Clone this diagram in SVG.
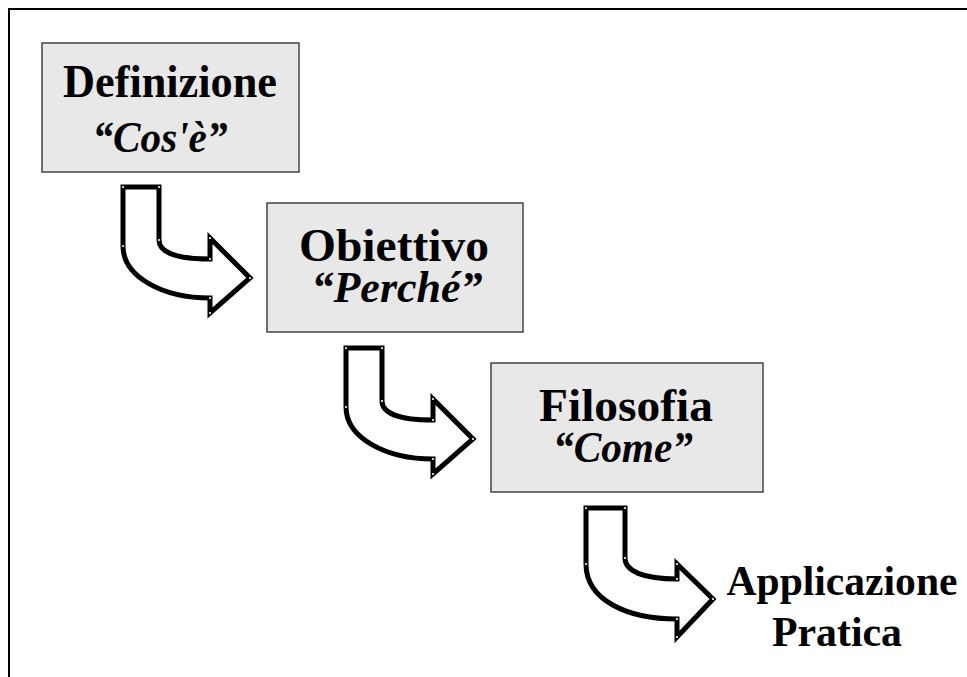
<svg xmlns="http://www.w3.org/2000/svg" width="967" height="677" viewBox="0 0 967 677">
  <style>
    .frame { fill: none; stroke: #000; stroke-width: 2; }
    .box { fill: #e8e8e8; stroke: #444; stroke-width: 1.5; }
    .title { font-family: "Liberation Serif", "Times New Roman", serif; font-weight: bold; font-size: 47px; fill: #000; text-anchor: middle; }
    .sub { font-family: "Liberation Serif", "Times New Roman", serif; font-weight: bold; font-style: italic; font-size: 45px; fill: #000; text-anchor: middle; }
    .label { font-family: "Liberation Serif", "Times New Roman", serif; font-weight: bold; font-size: 43px; fill: #000; text-anchor: middle; }
    .arrow { fill: #fff; stroke: #000; stroke-width: 5; stroke-linejoin: miter; marker-start: url(#dot); marker-mid: url(#dot); }
  </style>
  <defs>
    <marker id="dot" markerUnits="userSpaceOnUse" markerWidth="4" markerHeight="4" refX="2" refY="2" overflow="visible">
      <circle cx="2" cy="2" r="1.1" fill="#fff"/>
    </marker>
    <!-- bent block arrow: down, then curving right into an arrowhead -->
    <path id="bend" d="M123,187 L159,187 L159,240 C159,252 176,259 210,259 L210,238 L250,278 L210,313 L210,298 C163,298 123,277 123,246 Z"/>
  </defs>

  <rect width="967" height="677" fill="#fff"/>
  <path class="frame" d="M9,677 L9,9 L967,9"/>

  <g id="connectors">
    <use href="#bend" class="arrow"/>
    <use href="#bend" class="arrow" transform="translate(223,161)"/>
    <path class="arrow" d="M586,508 L625,508 L625,558 C625,571 643,579 677,579 L677,564 L713,599 L677,637 L677,619 C627,619 586,600 586,564 Z"/>
  </g>

  <g id="node-definizione">
    <rect class="box" x="42" y="43" width="257" height="129"/>
    <text class="title" x="170" y="97" textLength="214" lengthAdjust="spacingAndGlyphs">Definizione</text>
    <text class="sub" x="160" y="152" textLength="135" lengthAdjust="spacingAndGlyphs">“Cos'è”</text>
  </g>

  <g id="node-obiettivo">
    <rect class="box" x="267" y="203" width="256" height="129"/>
    <text class="title" x="394" y="261" textLength="190" lengthAdjust="spacingAndGlyphs">Obiettivo</text>
    <text class="sub" x="397" y="302" textLength="171" lengthAdjust="spacingAndGlyphs">“Perché”</text>
  </g>

  <g id="node-filosofia">
    <rect class="box" x="491" y="363" width="272" height="129"/>
    <text class="title" x="626" y="421" textLength="174" lengthAdjust="spacingAndGlyphs">Filosofia</text>
    <text class="sub" x="623" y="462" textLength="140" lengthAdjust="spacingAndGlyphs">“Come”</text>
  </g>

  <g id="node-applicazione">
    <text class="label" x="842" y="595" textLength="231" lengthAdjust="spacingAndGlyphs">Applicazione</text>
    <text class="label" x="837" y="646" textLength="130" lengthAdjust="spacingAndGlyphs">Pratica</text>
  </g>
</svg>
